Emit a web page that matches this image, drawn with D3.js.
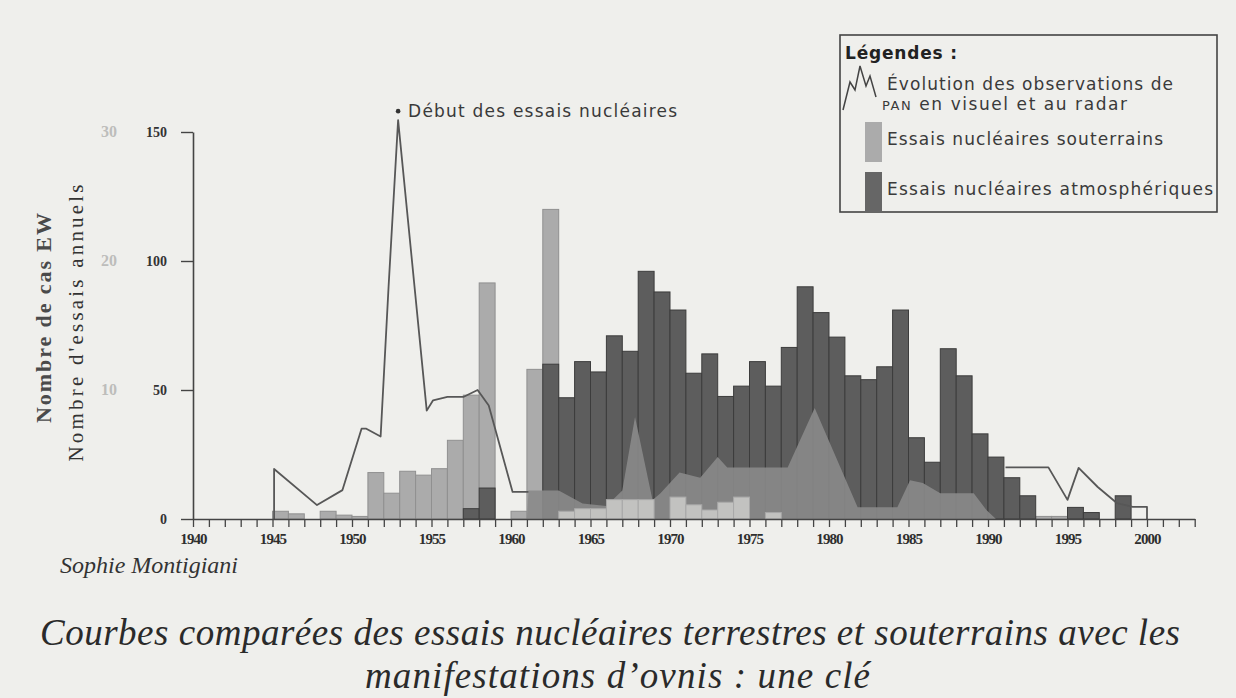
<!DOCTYPE html>
<html>
<head>
<meta charset="utf-8">
<script src="https://cdn.jsdelivr.net/npm/d3@7"></script>
<style>
  body { margin: 0; background: #efefec; }
  svg { display: block; }
</style>
</head>
<body>
<svg id="chart" width="1236" height="698"></svg>
<script>
// one bar per year, 1945 -> 1999
const barYears = [
  1945, 1946, 1947, 1948, 1949, 1950, 1951, 1952, 1953, 1954,
  1955, 1956, 1957, 1958, 1959, 1960, 1961, 1962, 1963, 1964,
  1965, 1966, 1967, 1968, 1969, 1970, 1971, 1972, 1973, 1974,
  1975, 1976, 1977, 1978, 1979, 1980, 1981, 1982, 1983, 1984,
  1985, 1986, 1987, 1988, 1989, 1990, 1991, 1992, 1993, 1994,
  1995, 1996, 1997, 1998, 1999
];
const undergroundTests = [
  3, 2, 0, 3, 1.5, 1, 18, 10, 18.5, 17,
  19.5, 30.5, 48, 91.5, 0, 3, 58, 120, 0, 0,
  0, 0, 0, 0, 0, 0, 0, 0, 0, 0,
  0, 0, 0, 0, 0, 0, 0, 0, 0, 0,
  0, 0, 0, 0, 0, 0, 0, 0, 1, 1,
  0, 0, 0, 0, 0
];
const atmosphericTests = [
  0, 0, 0, 0, 0, 0, 0, 0, 0, 0,
  0, 0, 4, 12, 0, 0, 0, 60, 47, 61,
  57, 71, 65, 96, 88, 81, 56.5, 64, 47.5, 51.5,
  61, 51.5, 66.5, 90, 80, 70.5, 55.5, 54, 59, 81,
  31.5, 22, 66, 55.5, 33, 24, 16, 9, 0, 0,
  4.5, 2.5, 0, 9, 0
];
// pale boxes at the foot of the 1960s-70s bars
const paleTests = [
  0, 0, 0, 0, 0, 0, 0, 0, 0, 0,
  0, 0, 0, 0, 0, 0, 0, 0, 3, 4,
  4, 7.5, 7.5, 7.5, 0, 8.5, 5.5, 3.5, 6.5, 8.5,
  0, 2.5, 0, 0, 0, 0, 0, 0, 0, 0,
  0, 0, 0, 0, 0, 0, 0, 0, 0, 0,
  0, 0, 0, 0, 0
];

// mid grey area drawn over the bars
const zoneYears = [1961, 1961.1, 1963, 1964.5, 1966, 1967, 1967.8, 1968.9, 1969.4, 1970.6,
  1971.9, 1973, 1973.6, 1977.4, 1979.1, 1981.8, 1984.3, 1985.1, 1985.9, 1987,
  1989.1, 1989.9, 1990.5];
const zoneValues = [0, 11, 11, 6, 5, 11, 39.5, 7.4, 10, 18,
  16, 24, 20, 20, 43, 4.6, 4.6, 15, 14, 10,
  10, 3.5, 0];

// UFO observations curve (hidden behind the bars between 1961 and 1991)
const lineYears = [1945.1, 1945.1, 1947.8, 1949.4, 1950.6, 1950.9, 1951.8, 1952.3, 1952.9,
  1954.7, 1955.1, 1956, 1957, 1957.9, 1958.6, 1960.1, 1961.1, null,
  1991.1, 1993.8, 1995, 1995.7, 1996.9, 1998.1, 1999.1, 2000, 2000];
const lineValues = [0, 19.4, 5.4, 11.2, 35, 35, 32, 90, 154.6,
  42, 46, 47.3, 47.3, 50, 44, 10.5, 10.5, null,
  20, 20, 7.4, 19.8, 12.4, 6.2, 4.7, 4.7, 0];

const yTicks = [0, 50, 100, 150];
const ghostTicks = ["10", "20", "30"];
const ghostTickValues = [50, 100, 150];

const svg = d3.select("#chart");

const xScale = d3.scaleLinear().domain([1940, 2000]).range([193, 1147]);
const yScale = d3.scaleLinear().domain([0, 150]).range([519, 132]);

const bars = barYears.map((year, i) => ({
  year: year,
  under: undergroundTests[i],
  atmo: atmosphericTests[i],
  pale: paleTests[i]
}));

function drawBars(key, fill, stroke) {
  svg.append("g")
    .selectAll("rect")
    .data(bars.filter((d) => d[key] > 0))
    .enter()
    .append("rect")
    .attr("x", (d) => xScale(d.year))
    .attr("width", (d) => xScale(d.year + 1) - xScale(d.year))
    .attr("y", (d) => yScale(d[key]))
    .attr("height", (d) => yScale(0) - yScale(d[key]))
    .attr("fill", fill)
    .attr("stroke", stroke)
    .attr("stroke-width", 1);
}

drawBars("under", "#ababab", "#909090");
drawBars("atmo", "#5d5d5d", "#3c3c3c");

// grey zone
const zone = zoneYears.map((year, i) => ({ year: year, value: zoneValues[i] }));
svg.append("path")
  .datum(zone)
  .attr("fill", "#8a8a8a")
  .attr("opacity", 0.9)
  .attr("d", d3.area()
    .x((d) => xScale(d.year))
    .y0(yScale(0))
    .y1((d) => yScale(d.value)));

drawBars("pale", "#c2c2c0", "#a8a8a8");

// observation line
const observations = lineYears.map((year, i) => ({ year: year, value: lineValues[i] }));
svg.append("path")
  .datum(observations)
  .attr("fill", "none")
  .attr("stroke", "#575757")
  .attr("stroke-width", 1.8)
  .attr("stroke-linejoin", "round")
  .attr("d", d3.line()
    .defined((d) => d.year !== null)
    .x((d) => xScale(d.year))
    .y((d) => yScale(d.value)));

// peak marker
const peak = observations[8];
svg.append("circle")
  .attr("cx", xScale(peak.year))
  .attr("cy", yScale(peak.value) - 9)
  .attr("r", 2.3)
  .attr("fill", "#333");
svg.append("text")
  .attr("x", xScale(peak.year) + 10)
  .attr("y", yScale(peak.value) - 3)
  .attr("font-family", "DejaVu Sans, sans-serif")
  .attr("font-size", 17)
  .attr("textLength", 269)
  .attr("fill", "#3a3a3a")
  .text("Début des essais nucléaires");

// x axis
const xAxis = svg.append("g")
  .attr("transform", `translate(0,${yScale(0)})`)
  .call(d3.axisBottom(d3.scaleLinear().domain([1940, 2003]).range([193, xScale(2003)]))
    .tickValues(d3.range(1940, 2004))
    .tickSize(8)
    .tickSizeOuter(0)
    .tickPadding(6)
    .tickFormat((d) => (d % 5 === 0 ? d : "")));
xAxis.select(".domain").attr("stroke", "#444").attr("stroke-width", 1.6);
xAxis.selectAll(".tick line").attr("stroke", "#444").attr("stroke-width", 1.3);
xAxis.selectAll(".tick text")
  .attr("font-family", "Liberation Serif, serif")
  .attr("font-size", 15)
  .attr("font-weight", "bold")
  .attr("letter-spacing", -0.9)
  .attr("fill", "#2e2e2e");

// y axis
const yAxis = svg.append("g")
  .attr("transform", `translate(${xScale(1940)},0)`)
  .call(d3.axisLeft(yScale).tickValues(yTicks).tickSize(12).tickSizeOuter(0).tickPadding(14));
yAxis.select(".domain").attr("stroke", "#444").attr("stroke-width", 1.6);
yAxis.selectAll(".tick line").attr("stroke", "#444").attr("stroke-width", 1.4);
yAxis.selectAll(".tick text")
  .attr("font-family", "Liberation Serif, serif")
  .attr("font-size", 14)
  .attr("font-weight", "bold")
  .attr("fill", "#333");

// faint second scale
svg.append("g")
  .selectAll("text")
  .data(ghostTicks)
  .enter()
  .append("text")
  .attr("x", 109)
  .attr("y", (d, i) => yScale(ghostTickValues[i]) + 5)
  .attr("text-anchor", "middle")
  .attr("font-family", "Liberation Serif, serif")
  .attr("font-size", 16)
  .attr("font-weight", "bold")
  .attr("fill", "#bdbdbb")
  .text((d) => d);

// axis titles
svg.append("text")
  .attr("transform", "translate(51,318) rotate(-90)")
  .attr("text-anchor", "middle")
  .attr("font-family", "Liberation Serif, serif")
  .attr("font-size", 22)
  .attr("font-weight", "bold")
  .attr("textLength", 210)
  .attr("fill", "#4a4a4a")
  .text("Nombre de cas EW");
svg.append("text")
  .attr("transform", "translate(83,323) rotate(-90)")
  .attr("text-anchor", "middle")
  .attr("font-family", "Liberation Serif, serif")
  .attr("font-size", 21)
  .attr("textLength", 277)
  .attr("fill", "#333")
  .text("Nombre d'essais annuels");

// legend
const legend = svg.append("g");
legend.append("rect")
  .attr("x", 840).attr("y", 35).attr("width", 377).attr("height", 177)
  .attr("fill", "none").attr("stroke", "#444").attr("stroke-width", 1.6);
legend.append("text")
  .attr("x", 845).attr("y", 59)
  .attr("font-family", "DejaVu Sans, sans-serif").attr("font-size", 17).attr("font-weight", "bold")
  .attr("textLength", 112)
  .attr("fill", "#222")
  .text("Légendes :");
legend.append("path")
  .attr("d", "M843,110 L850,82 L855,90 L860,66 L866,86 L870,76 L876,97")
  .attr("fill", "none").attr("stroke", "#444").attr("stroke-width", 1.5);
legend.append("rect")
  .attr("x", 865).attr("y", 122).attr("width", 17).attr("height", 40)
  .attr("fill", "#ababab");
legend.append("rect")
  .attr("x", 865).attr("y", 172).attr("width", 17).attr("height", 40)
  .attr("fill", "#666");
const legendLines = [
  { x: 887, y: 90, text: "Évolution des observations de", len: 286 },
  { x: 887, y: 145, text: "Essais nucléaires souterrains", len: 276 },
  { x: 887, y: 195, text: "Essais nucléaires atmosphériques", len: 326 }
];
legend.selectAll(".label")
  .data(legendLines)
  .enter()
  .append("text")
  .attr("x", (d) => d.x)
  .attr("y", (d) => d.y)
  .attr("font-family", "DejaVu Sans, sans-serif")
  .attr("font-size", 17)
  .attr("textLength", (d) => d.len)
  .attr("fill", "#3a3a3a")
  .text((d) => d.text);
const panLine = legend.append("text")
  .attr("x", 882).attr("y", 110)
  .attr("font-family", "DejaVu Sans, sans-serif")
  .attr("font-size", 17)
  .attr("textLength", 245)
  .attr("fill", "#3a3a3a");
panLine.append("tspan").attr("font-size", 13).text("PAN");
panLine.append("tspan").text(" en visuel et au radar");

// credits and caption
svg.append("text")
  .attr("x", 60).attr("y", 573)
  .attr("font-family", "Liberation Serif, serif")
  .attr("font-style", "italic")
  .attr("font-size", 24)
  .attr("fill", "#333")
  .text("Sophie Montigiani");
svg.append("text")
  .attr("x", 40).attr("y", 645)
  .attr("font-family", "Liberation Serif, serif")
  .attr("font-style", "italic")
  .attr("font-size", 37)
  .attr("textLength", 1140)
  .attr("fill", "#2a2a2a")
  .text("Courbes comparées des essais nucléaires terrestres et souterrains avec les");
svg.append("text")
  .attr("x", 365).attr("y", 688)
  .attr("font-family", "Liberation Serif, serif")
  .attr("font-style", "italic")
  .attr("font-size", 37)
  .attr("textLength", 505)
  .attr("fill", "#2a2a2a")
  .text("manifestations d’ovnis : une clé");
</script>
</body>
</html>
